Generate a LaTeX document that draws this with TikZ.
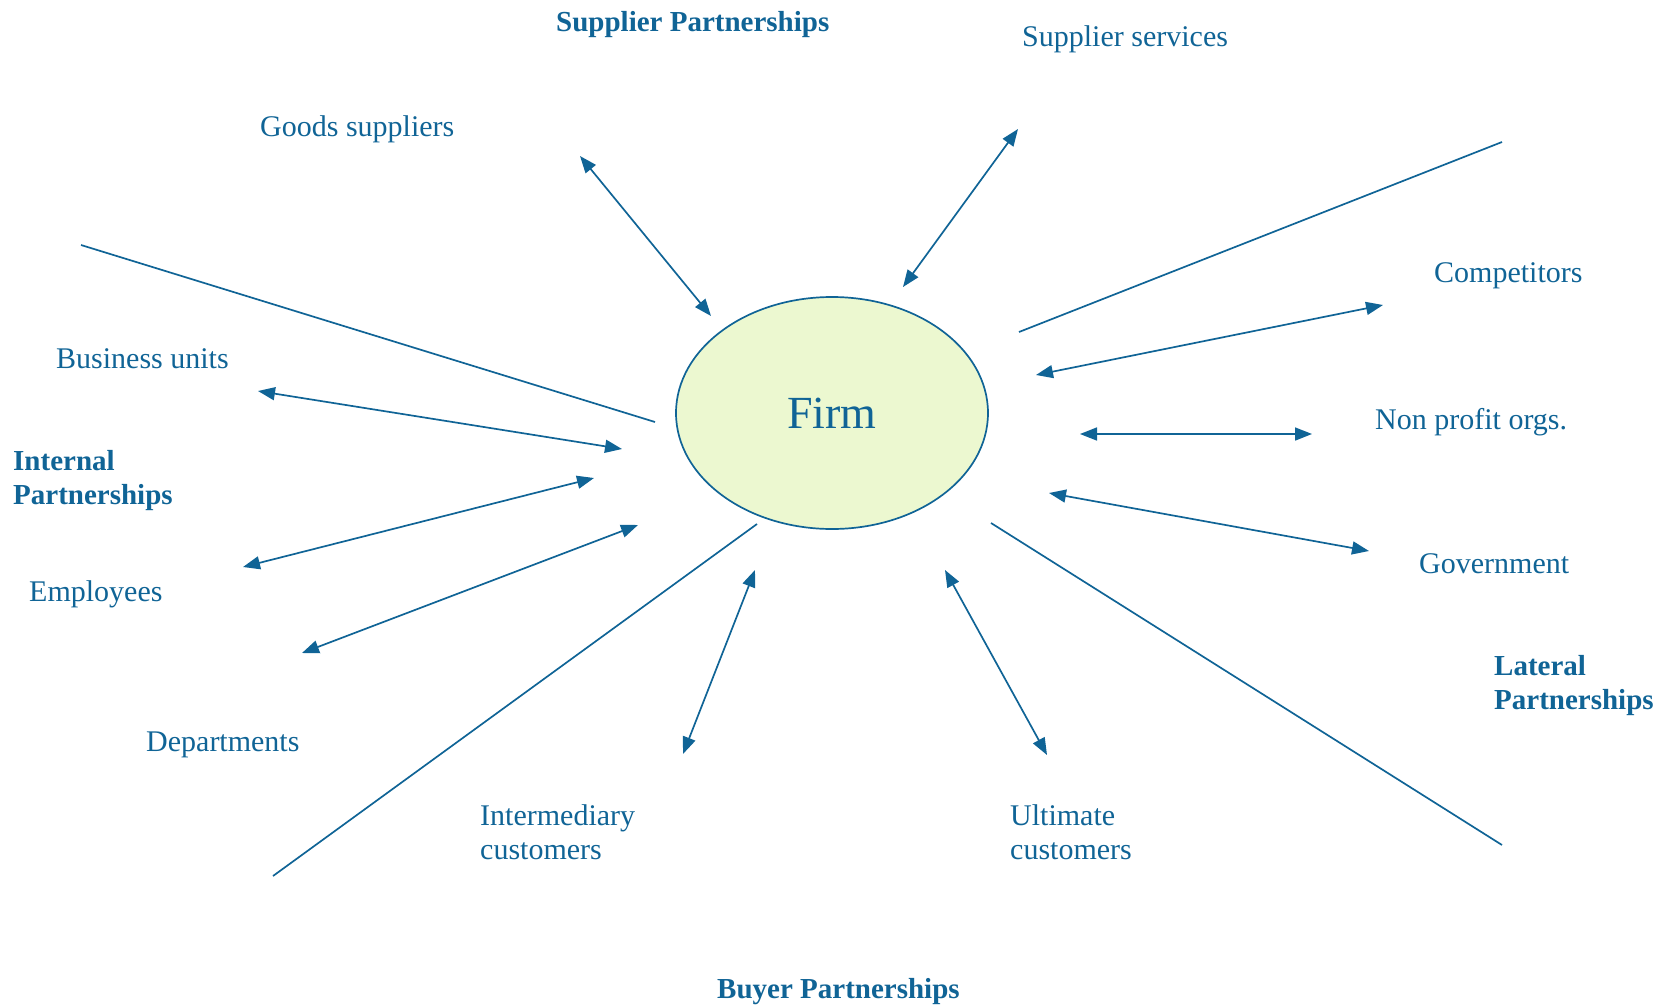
\documentclass[tikz,border=0pt]{standalone}
\usepackage{fontspec}
\setmainfont{Liberation Serif}
\usetikzlibrary{arrows.meta,shapes.geometric}
\definecolor{pblue}{RGB}{16,100,150}
\definecolor{pfill}{RGB}{236,248,208}
\begin{document}
\begin{tikzpicture}[x=1pt,y=-1pt,
  lbl/.style={text=pblue,font=\fontsize{30}{34}\selectfont,inner sep=0pt,anchor=mid west,align=left},
  bld/.style={text=pblue,font=\fontsize{29}{34}\selectfont\bfseries,inner sep=0pt,anchor=mid west,align=left},
  ray/.style={draw=pblue,line width=1.7pt},
  dbl/.style={ray,{Triangle[length=17pt,width=13pt]}-{Triangle[length=17pt,width=13pt]}}]
\useasboundingbox (0,0) rectangle (1666,1007);
% firm
\node[ellipse,draw=pblue,line width=1.7pt,fill=pfill,minimum width=312pt,minimum height=232pt,inner sep=0pt,
  text=pblue,font=\fontsize{46}{50}\selectfont] (firm) at (832,413) {Firm};
% labels
\node[bld] (sp) at (556,29) {Supplier Partnerships};
\node[lbl] (ss) at (1022,44) {Supplier services};
\node[lbl] (gs) at (260,134) {Goods suppliers};
\node[lbl] (co) at (1434,280) {Competitors};
\node[lbl] (bu) at (56,366) {Business units};
\node[bld,anchor=west] (ip) at (13,481) {Internal\\Partnerships};
\node[lbl] (np) at (1375,427) {Non profit orgs.};
\node[lbl] (go) at (1419,571) {Government};
\node[lbl] (em) at (29,599) {Employees};
\node[bld,anchor=west] (lp) at (1494,686) {Lateral\\Partnerships};
\node[lbl] (de) at (146,749) {Departments};
\node[lbl,anchor=west] (ic) at (480,832) {Intermediary\\customers};
\node[lbl,anchor=west] (uc) at (1010,832) {Ultimate\\customers};
\node[bld] (bp) at (717,996) {Buyer Partnerships};
% divider lines
\coordinate (l1a) at (81,245);   \coordinate (l1b) at (655,422);
\coordinate (l2a) at (1019,332); \coordinate (l2b) at (1502,142);
\coordinate (l3a) at (757,524);  \coordinate (l3b) at (273,876);
\coordinate (l4a) at (991,523);  \coordinate (l4b) at (1502,845);
\draw[ray] (l1a) -- (l1b);
\draw[ray] (l2a) -- (l2b);
\draw[ray] (l3a) -- (l3b);
\draw[ray] (l4a) -- (l4b);
% double arrows
\coordinate (aa1) at (580,156);  \coordinate (aa2) at (711,316);
\coordinate (ab1) at (1018,129); \coordinate (ab2) at (903,287);
\coordinate (ac1) at (1383,305); \coordinate (ac2) at (1036,375);
\coordinate (ad1) at (1080,434); \coordinate (ad2) at (1312,434);
\coordinate (ae1) at (1049,493); \coordinate (ae2) at (1369,551);
\coordinate (af1) at (258,391);  \coordinate (af2) at (622,449);
\coordinate (ag1) at (594,478);  \coordinate (ag2) at (243,567);
\coordinate (ah1) at (638,525);  \coordinate (ah2) at (302,653);
\coordinate (ai1) at (755,570);  \coordinate (ai2) at (683,754);
\coordinate (aj1) at (945,570);  \coordinate (aj2) at (1047,755);
\foreach \k in {a,b,c,d,e,f,g,h,i,j}{\draw[dbl] (a\k1) -- (a\k2);}
\end{tikzpicture}
\end{document}
